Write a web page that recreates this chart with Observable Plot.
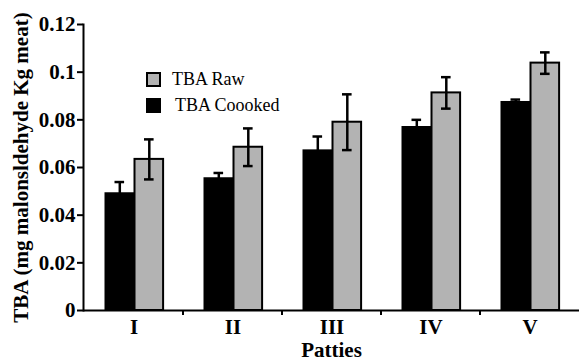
<!DOCTYPE html>
<html>
<head>
<meta charset="utf-8">
<script src="https://cdn.jsdelivr.net/npm/d3@7"></script>
<script src="https://cdn.jsdelivr.net/npm/@observablehq/plot@0.6"></script>
<style>
  html, body { margin: 0; padding: 0; background: #fff; }
  #wrap { position: relative; width: 579px; height: 362px; font-family: 'Liberation Serif', serif; }
  .legend { position: absolute; left: 146px; font-size: 18px; color: #000; display: flex; align-items: center; white-space: nowrap; }
  .sw { width: 15px; height: 15px; box-sizing: border-box; margin-right: 11px; }
</style>
</head>
<body>
<div id="wrap">
  <div id="chart"></div>
  <div class="legend" style="top:69px"><span class="sw" style="background:#b3b3b3;border:2px solid #000"></span><span>TBA Raw</span></div>
  <div class="legend" style="top:95px"><span class="sw" style="background:#000;margin-right:14px"></span><span>TBA Coooked</span></div>
</div>
<script>
const patties = ["I", "II", "III", "IV", "V"];
const cookedValues = [0.0494, 0.0557, 0.0674, 0.0772, 0.0877];
const cookedErrors = [0.0045, 0.0020, 0.0056, 0.0028, 0.0008];
const rawValues = [0.0634, 0.0685, 0.0790, 0.0913, 0.1038];
const rawErrors = [0.0084, 0.0079, 0.0117, 0.0066, 0.0045];
const yTicks = [0, 0.02, 0.04, 0.06, 0.08, 0.1, 0.12];
const yTickLabels = ["0", "0.02", "0.04", "0.06", "0.08", "0.1", "0.12"];

const cooked = patties.map((p, i) => ({patty: p, value: cookedValues[i], err: cookedErrors[i]}));
const raw = patties.map((p, i) => ({patty: p, value: rawValues[i], err: rawErrors[i]}));

function boundaryTicks(index, scales) {
  const {x, y} = scales;
  const bw = x.bandwidth();
  const y0 = y(0);
  const g = d3.create("svg:g").attr("stroke", "#000").attr("stroke-width", 2);
  for (const c of x.domain().slice(0, -1)) {
    const xx = x(c) + bw;
    g.append("line").attr("x1", xx).attr("x2", xx).attr("y1", y0).attr("y2", y0 + 5);
  }
  return g.node();
}

const chart = Plot.plot({
  width: 579,
  height: 362,
  marginLeft: 83,
  marginRight: 0,
  marginTop: 24,
  marginBottom: 52,
  style: {fontFamily: "'Liberation Serif', serif", fontSize: "21px", fontWeight: "bold", background: "#fff", color: "#000"},
  x: {domain: patties, padding: 0},
  y: {domain: [0, 0.12]},
  marks: [
    Plot.axisY({ticks: yTicks, tickFormat: (d) => yTickLabels[yTicks.indexOf(d)], tickSize: 6, tickPadding: 2, strokeWidth: 2,
      label: "TBA (mg malonsldehyde Kg meat)", labelAnchor: "center", labelOffset: 70, labelArrow: "none", fontSize: 21}),
    Plot.axisX({tickSize: 0, tickPadding: 9, label: "Patties", labelAnchor: "center", labelOffset: 46, labelArrow: "none", fontSize: 21}),
    Plot.barY(cooked, {x: "patty", y: "value", fill: "#000", insetLeft: 20.5, insetRight: 48.9}),
    Plot.barY(raw, {x: "patty", y: "value", fill: "#b3b3b3", stroke: "#000", strokeWidth: 2, insetLeft: 50.5, insetRight: 19.9}),
    Plot.ruleX(cooked, {x: "patty", y1: (d) => d.value - d.err, y2: (d) => d.value + d.err, dx: -14.2, stroke: "#000", strokeWidth: 2.5}),
    Plot.tickY(cooked, {x: "patty", y: (d) => d.value + d.err, insetLeft: 30.5, insetRight: 58.9, stroke: "#000", strokeWidth: 2.5}),
    Plot.ruleX(raw, {x: "patty", y1: (d) => d.value - d.err, y2: (d) => d.value + d.err, dx: 15.3, stroke: "#000", strokeWidth: 2.5}),
    Plot.tickY(raw, {x: "patty", y: (d) => d.value + d.err, insetLeft: 60, insetRight: 29.4, stroke: "#000", strokeWidth: 2.5}),
    Plot.tickY(raw, {x: "patty", y: (d) => d.value - d.err, insetLeft: 60, insetRight: 29.4, stroke: "#000", strokeWidth: 2.5}),
    Plot.ruleY([0], {stroke: "#000", strokeWidth: 2}),
    Plot.frame({anchor: "left", stroke: "#000", strokeWidth: 2}),
    boundaryTicks
  ]
});
document.getElementById("chart").appendChild(chart);
</script>
</body>
</html>
